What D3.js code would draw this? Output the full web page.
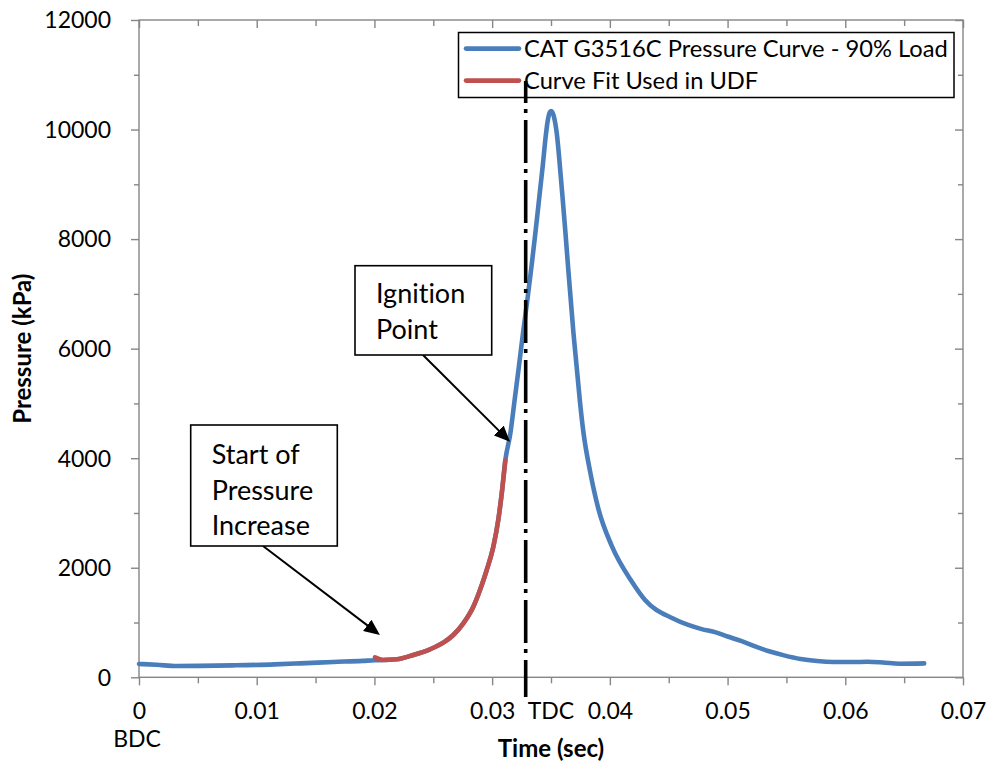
<!DOCTYPE html>
<html>
<head>
<meta charset="utf-8">
<script src="https://cdn.jsdelivr.net/npm/d3@7"></script>
<style>
  html, body { margin: 0; padding: 0; background: #ffffff; }
  svg { display: block; font-family: Lato, "Noto Sans", sans-serif; font-variant-ligatures: none; }
</style>
</head>
<body>
<svg id="chart" width="992" height="765"></svg>
<script>
// Cylinder pressure over one stroke, CAT G3516C at 90% load (time in s, pressure in kPa)
const pressureTime = [
  0, 0.0015, 0.0032, 0.005, 0.008, 0.0115, 0.0137, 0.0165, 0.019, 0.0200,
  0.02076, 0.02189, 0.0233, 0.02472, 0.02585, 0.0267, 0.02755, 0.0284, 0.02897, 0.02954,
  0.0301, 0.03052, 0.03081, 0.03112, 0.03155, 0.03191, 0.03227, 0.03262, 0.03299, 0.03334,
  0.03367, 0.03398, 0.03429, 0.03458, 0.0347, 0.0348, 0.0349, 0.0350, 0.0351, 0.0352,
  0.03535, 0.03549, 0.03576, 0.036, 0.03623, 0.03645, 0.03668, 0.03691, 0.03718, 0.03746,
  0.03775, 0.03832, 0.03902, 0.04016, 0.04186, 0.04299, 0.04537, 0.0466, 0.0478, 0.0490,
  0.0500, 0.0512, 0.0524, 0.0536, 0.0548, 0.0562, 0.0576, 0.0590, 0.0605, 0.0619,
  0.0632, 0.0646, 0.0667
];
const pressureKPa = [
  243, 228, 206, 208, 218, 236, 255, 280, 300, 312,
  316, 328, 407, 511, 632, 772, 985, 1289, 1594, 1959,
  2384, 2872, 3346, 3960, 4455, 5062, 5671, 6280, 6888, 7496,
  8106, 8714, 9322, 9932, 10132, 10248, 10317, 10340, 10323, 10272,
  10132, 9932, 9322, 8714, 8106, 7496, 6888, 6280, 5671, 5030,
  4480, 3760, 3080, 2400, 1749, 1411, 1073, 960, 880, 820,
  745, 660, 560, 470, 400, 335, 298, 280, 278, 283,
  270, 248, 255
];

// Compression-phase curve fit used in the UDF
const fitTime = [
  0.02005, 0.02076, 0.02189, 0.0233, 0.02472, 0.02585, 0.0267, 0.02755,
  0.0284, 0.02897, 0.02954, 0.0301, 0.03052, 0.03081, 0.03112
];
const fitKPa = [
  365, 316, 328, 407, 511, 632, 772, 985,
  1289, 1594, 1959, 2384, 2872, 3346, 3960
];

const xTicks = [0, 0.01, 0.02, 0.03, 0.04, 0.05, 0.06, 0.07];
const xTickLabels = ["0", "0.01", "0.02", "0.03", "0.04", "0.05", "0.06", "0.07"];
const xMinorTicks = [0.005, 0.015, 0.025, 0.035, 0.045, 0.055, 0.065];
const yTicks = [0, 2000, 4000, 6000, 8000, 10000, 12000];
const yTickLabels = ["0", "2000", "4000", "6000", "8000", "10000", "12000"];
const yMinorTicks = [1000, 3000, 5000, 7000, 9000, 11000];

const seriesNames = ["CAT G3516C Pressure Curve - 90% Load", "Curve Fit Used in UDF"];
const seriesColors = ["#4A7EBB", "#C0504D"];

// Top dead centre and the two annotated events
const tdcTime = 0.03285;
const startTip = { t: 0.02047, p: 772 };
const ignitionTip = { t: 0.03152, p: 4300 };

const svg = d3.select("#chart");
const plot = { left: 139, right: 963, top: 20, bottom: 677.3 };
const axisColor = "#868686";

const x = d3.scaleLinear().domain([0, 0.07]).range([plot.left, plot.right]);
const y = d3.scaleLinear().domain([0, 12000]).range([plot.bottom, plot.top]);

// Plot frame
svg.append("rect")
  .attr("x", plot.left).attr("y", plot.top)
  .attr("width", plot.right - plot.left).attr("height", plot.bottom - plot.top)
  .attr("fill", "none").attr("stroke", axisColor).attr("stroke-width", 1.4);

function styleAxis(g) {
  g.select(".domain").remove();
  g.selectAll(".tick line").attr("stroke", axisColor).attr("stroke-width", 1.4);
  g.selectAll(".tick text").attr("fill", "#000").style("font-size", "23px").style("font-family", "Lato, 'Noto Sans', sans-serif");
}

// Bottom axis
svg.append("g").attr("transform", `translate(0,${plot.bottom})`)
  .call(d3.axisBottom(x).tickValues(xTicks).tickSize(8).tickFormat((d, i) => xTickLabels[i]))
  .call(styleAxis)
  .call(g => g.selectAll(".tick text").attr("y", 42).attr("dy", 0));
svg.append("g").attr("transform", `translate(0,${plot.bottom})`)
  .call(d3.axisBottom(x).tickValues(xMinorTicks).tickSize(6).tickFormat(""))
  .call(styleAxis);

// Left axis
svg.append("g").attr("transform", `translate(${plot.left},0)`)
  .call(d3.axisLeft(y).tickValues(yTicks).tickSize(8).tickFormat((d, i) => yTickLabels[i]))
  .call(styleAxis)
  .call(g => g.selectAll(".tick text").attr("x", -28).attr("dy", "0.34em"));
svg.append("g").attr("transform", `translate(${plot.left},0)`)
  .call(d3.axisLeft(y).tickValues(yMinorTicks).tickSize(5).tickFormat(""))
  .call(styleAxis);

// Top and right frame ticks, pointing inward
svg.append("g").attr("transform", `translate(0,${plot.top})`)
  .call(d3.axisTop(x).tickValues(xTicks).tickSize(-8).tickFormat(""))
  .call(styleAxis);
svg.append("g").attr("transform", `translate(0,${plot.top})`)
  .call(d3.axisTop(x).tickValues(xMinorTicks).tickSize(-6).tickFormat(""))
  .call(styleAxis);
svg.append("g").attr("transform", `translate(${plot.right},0)`)
  .call(d3.axisRight(y).tickValues(yTicks).tickSize(-8).tickFormat(""))
  .call(styleAxis);
svg.append("g").attr("transform", `translate(${plot.right},0)`)
  .call(d3.axisRight(y).tickValues(yMinorTicks).tickSize(-5).tickFormat(""))
  .call(styleAxis);

// Axis titles and crank position labels
svg.append("text")
  .attr("x", (plot.left + plot.right) / 2).attr("y", 757)
  .attr("text-anchor", "middle").style("font-size", "24px").style("font-weight", 700)
  .text("Time (sec)");
svg.append("text")
  .attr("transform", `translate(31,${(plot.top + plot.bottom) / 2}) rotate(-90)`)
  .attr("text-anchor", "middle").style("font-size", "24px").style("font-weight", 700)
  .text("Pressure (kPa)");
svg.append("text")
  .attr("x", x(0) - 2).attr("y", 747).attr("text-anchor", "middle")
  .style("font-size", "23px").text("BDC");
svg.append("text")
  .attr("x", x(tdcTime) + 2).attr("y", 719)
  .style("font-size", "23px").text("TDC");

// Curves
const line = d3.line()
  .x(d => x(d[0]))
  .y(d => y(d[1]))
  .curve(d3.curveMonotoneX);

const measured = pressureTime.map((t, i) => [t, pressureKPa[i]]);
const fitted = fitTime.map((t, i) => [t, fitKPa[i]]);

svg.append("path").datum(measured)
  .attr("d", line).attr("fill", "none")
  .attr("stroke", seriesColors[0]).attr("stroke-width", 4.6)
  .attr("stroke-linecap", "round").attr("stroke-linejoin", "round");
svg.append("path").datum(fitted)
  .attr("d", line).attr("fill", "none")
  .attr("stroke", seriesColors[1]).attr("stroke-width", 4.6)
  .attr("stroke-linecap", "round").attr("stroke-linejoin", "round");

// Legend
const legend = svg.append("g");
legend.append("rect")
  .attr("x", 458.5).attr("y", 32.5).attr("width", 495.5).attr("height", 65)
  .attr("fill", "#fff").attr("stroke", "#000").attr("stroke-width", 1.5);
seriesNames.forEach((name, i) => {
  const cy = 48.6 + i * 32;
  legend.append("line")
    .attr("x1", 466).attr("x2", 519).attr("y1", cy).attr("y2", cy)
    .attr("stroke", seriesColors[i]).attr("stroke-width", 4.6).attr("stroke-linecap", "round");
  legend.append("text")
    .attr("x", 524).attr("y", cy + 7.9)
    .style("font-size", "23.7px").text(name);
});

// TDC marker line (dash-dot)
svg.append("line")
  .attr("x1", x(tdcTime)).attr("x2", x(tdcTime))
  .attr("y1", 81).attr("y2", 697)
  .attr("stroke", "#000").attr("stroke-width", 3.6)
  .attr("stroke-dasharray", "43,6,4,7").attr("stroke-dashoffset", 21);

// Annotation callouts
const defs = svg.append("defs");
defs.append("marker")
  .attr("id", "arrowhead").attr("viewBox", "0 0 16 14")
  .attr("refX", 8).attr("refY", 7)
  .attr("markerWidth", 16).attr("markerHeight", 14)
  .attr("markerUnits", "userSpaceOnUse").attr("orient", "auto")
  .append("path").attr("d", "M0,0 L16,7 L0,14 Z").attr("fill", "#000");

function callout(box, lines, from, tip) {
  const g = svg.append("g");
  const tx = x(tip.t), ty = y(tip.p);
  const dx = tx - from[0], dy = ty - from[1];
  const len = Math.hypot(dx, dy);
  g.append("line")
    .attr("x1", from[0]).attr("y1", from[1])
    .attr("x2", tx - dx / len * 8).attr("y2", ty - dy / len * 8)
    .attr("stroke", "#000").attr("stroke-width", 2)
    .attr("marker-end", "url(#arrowhead)");
  g.append("rect")
    .attr("x", box.x).attr("y", box.y).attr("width", box.w).attr("height", box.h)
    .attr("fill", "#fff").attr("stroke", "#000").attr("stroke-width", 1.6);
  lines.forEach((s, i) => {
    g.append("text")
      .attr("x", box.tx).attr("y", box.ty + i * 35.5)
      .style("font-size", "27px").text(s);
  });
}

callout({ x: 190.7, y: 425, w: 146.6, h: 121, tx: 211.7, ty: 464 },
  ["Start of", "Pressure", "Increase"], [263, 546], startTip);
callout({ x: 355, y: 265.7, w: 136.7, h: 89.3, tx: 376, ty: 303.3 },
  ["Ignition", "Point"], [423, 355], ignitionTip);
</script>
</body>
</html>
